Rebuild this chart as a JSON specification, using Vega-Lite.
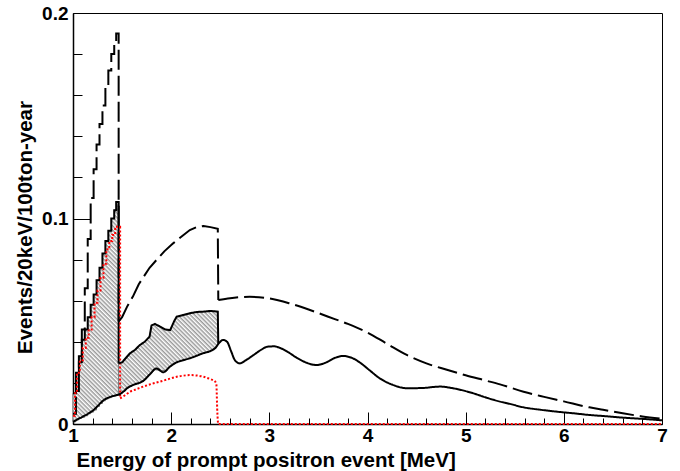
{
  "$schema": "https://vega.github.io/schema/vega-lite/v6.json",
  "width": 589,
  "height": 411,
  "autosize": {"type": "none"},
  "padding": {"left": 73, "top": 13, "right": 18, "bottom": 47},
  "background": "white",
  "config": {
    "view": {"stroke": "#000", "strokeWidth": 1},
    "font": "Liberation Sans",
    "axis": {
      "labelFont": "Liberation Sans", "labelFontWeight": "bold", "labelFontSize": 19, "labelColor": "#000",
      "titleFont": "Liberation Sans", "titleFontWeight": "bold", "titleFontSize": 20.5, "titleColor": "#000",
      "domainColor": "#000", "domainWidth": 1.5, "tickColor": "#000", "tickWidth": 1, "grid": false
    }
  },
  "data": {"values": [
    {"s":"hatch","part":"step","E":1.00,"v":0.015,"lo":0.0011},
    {"s":"hatch","part":"step","E":1.03,"v":0.025,"lo":0.002},
    {"s":"hatch","part":"step","E":1.06,"v":0.033,"lo":0.0028},
    {"s":"hatch","part":"step","E":1.09,"v":0.041,"lo":0.0033},
    {"s":"hatch","part":"step","E":1.12,"v":0.046,"lo":0.004},
    {"s":"hatch","part":"step","E":1.15,"v":0.052,"lo":0.005},
    {"s":"hatch","part":"step","E":1.18,"v":0.058,"lo":0.0058},
    {"s":"hatch","part":"step","E":1.21,"v":0.063,"lo":0.0068},
    {"s":"hatch","part":"step","E":1.24,"v":0.070,"lo":0.0085},
    {"s":"hatch","part":"step","E":1.27,"v":0.076,"lo":0.0100},
    {"s":"hatch","part":"step","E":1.30,"v":0.083,"lo":0.0113},
    {"s":"hatch","part":"step","E":1.33,"v":0.089,"lo":0.0122},
    {"s":"hatch","part":"step","E":1.36,"v":0.094,"lo":0.0128},
    {"s":"hatch","part":"step","E":1.39,"v":0.100,"lo":0.0134},
    {"s":"hatch","part":"step","E":1.42,"v":0.104,"lo":0.0137},
    {"s":"hatch","part":"step","E":1.44,"v":0.108,"lo":0.0140},
    {"s":"hatch","part":"step","E":1.465,"v":0.0295,"lo":0.0144},
    {"s":"hatch","part":"lin","E":1.465,"v":0.0295,"lo":0.0144},
    {"s":"hatch","part":"lin","E":1.50,"v":0.030,"lo":0.0153},
    {"s":"hatch","part":"lin","E":1.58,"v":0.0344,"lo":0.0181},
    {"s":"hatch","part":"lin","E":1.63,"v":0.036,"lo":0.0193},
    {"s":"hatch","part":"lin","E":1.68,"v":0.0384,"lo":0.0203},
    {"s":"hatch","part":"lin","E":1.73,"v":0.040,"lo":0.0216},
    {"s":"hatch","part":"lin","E":1.78,"v":0.0425,"lo":0.0240},
    {"s":"hatch","part":"lin","E":1.80,"v":0.048,"lo":0.0249},
    {"s":"hatch","part":"lin","E":1.835,"v":0.0487,"lo":0.0264},
    {"s":"hatch","part":"lin","E":1.886,"v":0.0474,"lo":0.0261},
    {"s":"hatch","part":"lin","E":1.94,"v":0.046,"lo":0.0260},
    {"s":"hatch","part":"lin","E":1.99,"v":0.0457,"lo":0.0280},
    {"s":"hatch","part":"lin","E":2.03,"v":0.050,"lo":0.0292},
    {"s":"hatch","part":"lin","E":2.056,"v":0.0522,"lo":0.0300},
    {"s":"hatch","part":"lin","E":2.12,"v":0.053,"lo":0.0310},
    {"s":"hatch","part":"lin","E":2.19,"v":0.0539,"lo":0.0320},
    {"s":"hatch","part":"lin","E":2.26,"v":0.0545,"lo":0.0332},
    {"s":"hatch","part":"lin","E":2.33,"v":0.0547,"lo":0.0345},
    {"s":"hatch","part":"lin","E":2.40,"v":0.0550,"lo":0.0355},
    {"s":"hatch","part":"lin","E":2.475,"v":0.0547,"lo":0.0385},
    {"s":"hatch","part":"lin","E":2.48,"v":0.039,"lo":0.039},

    {"s":"top","part":"step","E":1.00,"v":0.015},
    {"s":"top","part":"step","E":1.03,"v":0.025},
    {"s":"top","part":"step","E":1.06,"v":0.033},
    {"s":"top","part":"step","E":1.09,"v":0.041},
    {"s":"top","part":"step","E":1.12,"v":0.046},
    {"s":"top","part":"step","E":1.15,"v":0.052},
    {"s":"top","part":"step","E":1.18,"v":0.058},
    {"s":"top","part":"step","E":1.21,"v":0.063},
    {"s":"top","part":"step","E":1.24,"v":0.070},
    {"s":"top","part":"step","E":1.27,"v":0.076},
    {"s":"top","part":"step","E":1.30,"v":0.083},
    {"s":"top","part":"step","E":1.33,"v":0.089},
    {"s":"top","part":"step","E":1.36,"v":0.094},
    {"s":"top","part":"step","E":1.39,"v":0.100},
    {"s":"top","part":"step","E":1.42,"v":0.104},
    {"s":"top","part":"step","E":1.44,"v":0.108},
    {"s":"top","part":"step","E":1.465,"v":0.0295},
    {"s":"top","part":"lin","E":1.465,"v":0.0295},
    {"s":"top","part":"lin","E":1.50,"v":0.030},
    {"s":"top","part":"lin","E":1.58,"v":0.0344},
    {"s":"top","part":"lin","E":1.63,"v":0.036},
    {"s":"top","part":"lin","E":1.68,"v":0.0384},
    {"s":"top","part":"lin","E":1.73,"v":0.040},
    {"s":"top","part":"lin","E":1.78,"v":0.0425},
    {"s":"top","part":"lin","E":1.80,"v":0.048},
    {"s":"top","part":"lin","E":1.835,"v":0.0487},
    {"s":"top","part":"lin","E":1.886,"v":0.0474},
    {"s":"top","part":"lin","E":1.94,"v":0.046},
    {"s":"top","part":"lin","E":1.99,"v":0.0457},
    {"s":"top","part":"lin","E":2.03,"v":0.050},
    {"s":"top","part":"lin","E":2.056,"v":0.0522},
    {"s":"top","part":"lin","E":2.12,"v":0.053},
    {"s":"top","part":"lin","E":2.19,"v":0.0539},
    {"s":"top","part":"lin","E":2.26,"v":0.0545},
    {"s":"top","part":"lin","E":2.33,"v":0.0547},
    {"s":"top","part":"lin","E":2.40,"v":0.0550},
    {"s":"top","part":"lin","E":2.475,"v":0.0547},
    {"s":"top","part":"lin","E":2.48,"v":0.039},

    {"s":"dash","part":"step","E":1.00,"v":0.005},
    {"s":"dash","part":"step","E":1.03,"v":0.016},
    {"s":"dash","part":"step","E":1.06,"v":0.030},
    {"s":"dash","part":"step","E":1.09,"v":0.046},
    {"s":"dash","part":"step","E":1.12,"v":0.066},
    {"s":"dash","part":"step","E":1.15,"v":0.090},
    {"s":"dash","part":"step","E":1.18,"v":0.110},
    {"s":"dash","part":"step","E":1.21,"v":0.124},
    {"s":"dash","part":"step","E":1.24,"v":0.136},
    {"s":"dash","part":"step","E":1.27,"v":0.146},
    {"s":"dash","part":"step","E":1.30,"v":0.155},
    {"s":"dash","part":"step","E":1.33,"v":0.164},
    {"s":"dash","part":"step","E":1.36,"v":0.172},
    {"s":"dash","part":"step","E":1.39,"v":0.180},
    {"s":"dash","part":"step","E":1.42,"v":0.185},
    {"s":"dash","part":"step","E":1.44,"v":0.190},
    {"s":"dash","part":"step","E":1.465,"v":0.050},
    {"s":"dash","part":"lin","E":1.465,"v":0.050},
    {"s":"dash","part":"lin","E":1.50,"v":0.052},
    {"s":"dash","part":"lin","E":1.55,"v":0.057},
    {"s":"dash","part":"lin","E":1.61,"v":0.062},
    {"s":"dash","part":"lin","E":1.67,"v":0.068},
    {"s":"dash","part":"lin","E":1.72,"v":0.0717},
    {"s":"dash","part":"lin","E":1.78,"v":0.076},
    {"s":"dash","part":"lin","E":1.85,"v":0.0798},
    {"s":"dash","part":"lin","E":1.93,"v":0.084},
    {"s":"dash","part":"lin","E":2.02,"v":0.0879},
    {"s":"dash","part":"lin","E":2.10,"v":0.091},
    {"s":"dash","part":"lin","E":2.19,"v":0.0944},
    {"s":"dash","part":"lin","E":2.26,"v":0.0958},
    {"s":"dash","part":"lin","E":2.33,"v":0.0964},
    {"s":"dash","part":"lin","E":2.40,"v":0.0958},
    {"s":"dash","part":"lin","E":2.475,"v":0.0950},
    {"s":"dash","part":"lin","E":2.48,"v":0.0603},
    {"s":"dash","part":"mono","E":2.48,"v":0.0603},
    {"s":"dash","part":"mono","E":2.60,"v":0.0612},
    {"s":"dash","part":"mono","E":2.80,"v":0.0619},
    {"s":"dash","part":"mono","E":3.00,"v":0.0611},
    {"s":"dash","part":"mono","E":3.20,"v":0.0588},
    {"s":"dash","part":"mono","E":3.40,"v":0.0557},
    {"s":"dash","part":"mono","E":3.60,"v":0.0522},
    {"s":"dash","part":"mono","E":3.80,"v":0.0487},
    {"s":"dash","part":"mono","E":4.00,"v":0.0445},
    {"s":"dash","part":"mono","E":4.20,"v":0.0390},
    {"s":"dash","part":"mono","E":4.40,"v":0.0336},
    {"s":"dash","part":"mono","E":4.60,"v":0.0295},
    {"s":"dash","part":"mono","E":4.80,"v":0.0265},
    {"s":"dash","part":"mono","E":5.00,"v":0.0237},
    {"s":"dash","part":"mono","E":5.20,"v":0.0212},
    {"s":"dash","part":"mono","E":5.35,"v":0.0193},
    {"s":"dash","part":"mono","E":5.59,"v":0.0157},
    {"s":"dash","part":"mono","E":5.80,"v":0.0132},
    {"s":"dash","part":"mono","E":6.00,"v":0.0110},
    {"s":"dash","part":"mono","E":6.26,"v":0.0081},
    {"s":"dash","part":"mono","E":6.40,"v":0.0069},
    {"s":"dash","part":"mono","E":6.60,"v":0.0052},
    {"s":"dash","part":"mono","E":6.80,"v":0.0037},
    {"s":"dash","part":"mono","E":7.00,"v":0.0025},

    {"s":"solid","part":"mono","E":1.00,"v":0.0011},
    {"s":"solid","part":"mono","E":1.05,"v":0.0024},
    {"s":"solid","part":"mono","E":1.10,"v":0.0036},
    {"s":"solid","part":"mono","E":1.16,"v":0.0052},
    {"s":"solid","part":"mono","E":1.21,"v":0.0068},
    {"s":"solid","part":"mono","E":1.26,"v":0.0092},
    {"s":"solid","part":"mono","E":1.31,"v":0.0115},
    {"s":"solid","part":"mono","E":1.38,"v":0.0132},
    {"s":"solid","part":"mono","E":1.44,"v":0.0140},
    {"s":"solid","part":"mono","E":1.48,"v":0.0146},
    {"s":"solid","part":"mono","E":1.52,"v":0.0160},
    {"s":"solid","part":"mono","E":1.55,"v":0.0174},
    {"s":"solid","part":"mono","E":1.614,"v":0.0190},
    {"s":"solid","part":"mono","E":1.716,"v":0.0210},
    {"s":"solid","part":"mono","E":1.78,"v":0.0240},
    {"s":"solid","part":"mono","E":1.85,"v":0.0270},
    {"s":"solid","part":"mono","E":1.92,"v":0.0252},
    {"s":"solid","part":"mono","E":1.99,"v":0.0280},
    {"s":"solid","part":"mono","E":2.056,"v":0.0300},
    {"s":"solid","part":"mono","E":2.12,"v":0.0310},
    {"s":"solid","part":"mono","E":2.19,"v":0.0320},
    {"s":"solid","part":"mono","E":2.26,"v":0.0332},
    {"s":"solid","part":"mono","E":2.33,"v":0.0345},
    {"s":"solid","part":"mono","E":2.40,"v":0.0355},
    {"s":"solid","part":"mono","E":2.45,"v":0.0370},
    {"s":"solid","part":"mono","E":2.49,"v":0.0395},
    {"s":"solid","part":"mono","E":2.53,"v":0.0409},
    {"s":"solid","part":"mono","E":2.57,"v":0.0400},
    {"s":"solid","part":"mono","E":2.61,"v":0.0355},
    {"s":"solid","part":"mono","E":2.65,"v":0.0310},
    {"s":"solid","part":"mono","E":2.70,"v":0.0295},
    {"s":"solid","part":"mono","E":2.76,"v":0.0310},
    {"s":"solid","part":"mono","E":2.84,"v":0.0336},
    {"s":"solid","part":"mono","E":2.92,"v":0.0362},
    {"s":"solid","part":"mono","E":2.98,"v":0.0376},
    {"s":"solid","part":"mono","E":3.05,"v":0.0378},
    {"s":"solid","part":"mono","E":3.11,"v":0.0370},
    {"s":"solid","part":"mono","E":3.20,"v":0.0347},
    {"s":"solid","part":"mono","E":3.28,"v":0.0322},
    {"s":"solid","part":"mono","E":3.38,"v":0.0298},
    {"s":"solid","part":"mono","E":3.48,"v":0.0287},
    {"s":"solid","part":"mono","E":3.58,"v":0.0300},
    {"s":"solid","part":"mono","E":3.66,"v":0.0320},
    {"s":"solid","part":"mono","E":3.75,"v":0.0331},
    {"s":"solid","part":"mono","E":3.84,"v":0.0322},
    {"s":"solid","part":"mono","E":3.92,"v":0.0300},
    {"s":"solid","part":"mono","E":4.02,"v":0.0262},
    {"s":"solid","part":"mono","E":4.125,"v":0.0222},
    {"s":"solid","part":"mono","E":4.25,"v":0.0192},
    {"s":"solid","part":"mono","E":4.40,"v":0.0174},
    {"s":"solid","part":"mono","E":4.55,"v":0.0175},
    {"s":"solid","part":"mono","E":4.74,"v":0.0182},
    {"s":"solid","part":"mono","E":4.87,"v":0.0174},
    {"s":"solid","part":"mono","E":5.00,"v":0.0160},
    {"s":"solid","part":"mono","E":5.08,"v":0.0149},
    {"s":"solid","part":"mono","E":5.20,"v":0.0130},
    {"s":"solid","part":"mono","E":5.35,"v":0.0109},
    {"s":"solid","part":"mono","E":5.45,"v":0.0098},
    {"s":"solid","part":"mono","E":5.59,"v":0.0081},
    {"s":"solid","part":"mono","E":5.75,"v":0.0070},
    {"s":"solid","part":"mono","E":5.93,"v":0.0060},
    {"s":"solid","part":"mono","E":6.10,"v":0.0052},
    {"s":"solid","part":"mono","E":6.26,"v":0.0044},
    {"s":"solid","part":"mono","E":6.45,"v":0.0037},
    {"s":"solid","part":"mono","E":6.60,"v":0.0031},
    {"s":"solid","part":"mono","E":6.80,"v":0.0025},
    {"s":"solid","part":"mono","E":7.00,"v":0.0018},

    {"s":"red","part":"step","E":1.00,"v":0.004},
    {"s":"red","part":"step","E":1.02,"v":0.015},
    {"s":"red","part":"step","E":1.04,"v":0.025},
    {"s":"red","part":"step","E":1.07,"v":0.031},
    {"s":"red","part":"step","E":1.10,"v":0.037},
    {"s":"red","part":"step","E":1.13,"v":0.042},
    {"s":"red","part":"step","E":1.16,"v":0.046},
    {"s":"red","part":"step","E":1.19,"v":0.052},
    {"s":"red","part":"step","E":1.22,"v":0.059},
    {"s":"red","part":"step","E":1.25,"v":0.065},
    {"s":"red","part":"step","E":1.28,"v":0.071},
    {"s":"red","part":"step","E":1.31,"v":0.078},
    {"s":"red","part":"step","E":1.34,"v":0.085},
    {"s":"red","part":"step","E":1.37,"v":0.089},
    {"s":"red","part":"step","E":1.40,"v":0.092},
    {"s":"red","part":"step","E":1.43,"v":0.096},
    {"s":"red","part":"step","E":1.48,"v":0.0125},
    {"s":"red","part":"mono","E":1.48,"v":0.0125},
    {"s":"red","part":"mono","E":1.53,"v":0.014},
    {"s":"red","part":"mono","E":1.58,"v":0.0157},
    {"s":"red","part":"mono","E":1.65,"v":0.017},
    {"s":"red","part":"mono","E":1.716,"v":0.0182},
    {"s":"red","part":"mono","E":1.80,"v":0.0195},
    {"s":"red","part":"mono","E":1.886,"v":0.0206},
    {"s":"red","part":"mono","E":1.97,"v":0.0218},
    {"s":"red","part":"mono","E":2.056,"v":0.023},
    {"s":"red","part":"mono","E":2.12,"v":0.0235},
    {"s":"red","part":"mono","E":2.19,"v":0.0238},
    {"s":"red","part":"mono","E":2.26,"v":0.0236},
    {"s":"red","part":"mono","E":2.33,"v":0.023},
    {"s":"red","part":"mono","E":2.40,"v":0.0218},
    {"s":"red","part":"mono","E":2.44,"v":0.0210},
    {"s":"red","part":"mono","E":2.46,"v":0.0195},
    {"s":"red","part":"mono","E":2.47,"v":0.006},
    {"s":"red","part":"mono","E":2.48,"v":0.0},
    {"s":"red","part":"mono","E":7.00,"v":0.0}
  ]},
  "encoding": {
    "x": {
      "field": "E", "type": "quantitative",
      "scale": {"domain": [1, 7], "nice": false, "zero": false},
      "axis": {
        "title": "Energy of prompt positron event [MeV]",
        "values": [1,1.2,1.4,1.6,1.8,2,2.2,2.4,2.6,2.8,3,3.2,3.4,3.6,3.8,4,4.2,4.4,4.6,4.8,5,5.2,5.4,5.6,5.8,6,6.2,6.4,6.6,6.8,7],
        "labelExpr": "abs(datum.value-round(datum.value))<0.01 ? format(datum.value,'d') : ''",
        "tickSize": {"condition": {"test": "abs(datum.value-round(datum.value))<0.01", "value": -12}, "value": -6},
        "labelPadding": 14,
        "labelFlush": false,
        "labelOverlap": false,
        "labelBound": false,
        "titleX": 3,
        "titleY": 42.5,
        "titleAlign": "left",
        "titleAnchor": "start",
        "titleBaseline": "alphabetic"
      }
    },
    "y": {
      "field": "v", "type": "quantitative",
      "scale": {"domain": [0, 0.2], "nice": false, "zero": false},
      "axis": {
        "title": "Events/20keV/100ton-year",
        "values": [0,0.02,0.04,0.06,0.08,0.1,0.12,0.14,0.16,0.18,0.2],
        "labelExpr": "datum.value < 0.001 ? '0' : (abs(datum.value*10-round(datum.value*10))<0.01 ? format(datum.value,'.1f') : '')",
        "tickSize": {"condition": {"test": "abs(datum.value*10-round(datum.value*10))<0.01", "value": -17}, "value": -9},
        "labelPadding": 22,
        "labelFlush": false,
        "labelOverlap": false,
        "labelBound": false,
        "titleX": -48,
        "titleY": 214,
        "titleAngle": -90,
        "titleAlign": "center",
        "titleBaseline": "middle"
      }
    }
  },
  "layer": [
    {
      "transform": [{"filter": "datum.s === 'hatch' && datum.part === 'step'"}],
      "mark": {"type": "area", "interpolate": "step-after", "stroke": "#777", "strokeWidth": 1,
        "fill": {"gradient": "linear", "x1": 0, "y1": 1, "x2": 0.24, "y2": -0.155, "stops": [
          {"offset":0,"color":"#ffffff"},{"offset":0.011,"color":"#999999"},{"offset":0.016,"color":"#ffffff"},{"offset":0.027,"color":"#999999"},{"offset":0.032,"color":"#ffffff"},{"offset":0.043,"color":"#999999"},{"offset":0.048,"color":"#ffffff"},{"offset":0.059,"color":"#999999"},{"offset":0.064,"color":"#ffffff"},{"offset":0.075,"color":"#999999"},{"offset":0.08,"color":"#ffffff"},{"offset":0.091,"color":"#999999"},{"offset":0.096,"color":"#ffffff"},{"offset":0.107,"color":"#999999"},{"offset":0.112,"color":"#ffffff"},{"offset":0.123,"color":"#999999"},{"offset":0.128,"color":"#ffffff"},{"offset":0.139,"color":"#999999"},{"offset":0.144,"color":"#ffffff"},{"offset":0.155,"color":"#999999"},{"offset":0.16,"color":"#ffffff"},{"offset":0.171,"color":"#999999"},{"offset":0.176,"color":"#ffffff"},{"offset":0.187,"color":"#999999"},{"offset":0.192,"color":"#ffffff"},{"offset":0.203,"color":"#999999"},{"offset":0.208,"color":"#ffffff"},{"offset":0.219,"color":"#999999"},{"offset":0.224,"color":"#ffffff"},{"offset":0.235,"color":"#999999"},{"offset":0.24,"color":"#ffffff"},{"offset":0.251,"color":"#999999"},{"offset":0.256,"color":"#ffffff"},{"offset":0.267,"color":"#999999"},{"offset":0.272,"color":"#ffffff"},{"offset":0.283,"color":"#999999"},{"offset":0.288,"color":"#ffffff"},{"offset":0.299,"color":"#999999"},{"offset":0.304,"color":"#ffffff"},{"offset":0.315,"color":"#999999"},{"offset":0.32,"color":"#ffffff"},{"offset":0.331,"color":"#999999"},{"offset":0.336,"color":"#ffffff"},{"offset":0.347,"color":"#999999"},{"offset":0.352,"color":"#ffffff"},{"offset":0.363,"color":"#999999"},{"offset":0.368,"color":"#ffffff"},{"offset":0.379,"color":"#999999"},{"offset":0.384,"color":"#ffffff"},{"offset":0.395,"color":"#999999"},{"offset":0.4,"color":"#ffffff"},{"offset":0.411,"color":"#999999"},{"offset":0.416,"color":"#ffffff"},{"offset":0.427,"color":"#999999"},{"offset":0.432,"color":"#ffffff"},{"offset":0.443,"color":"#999999"},{"offset":0.448,"color":"#ffffff"},{"offset":0.459,"color":"#999999"},{"offset":0.464,"color":"#ffffff"},{"offset":0.475,"color":"#999999"},{"offset":0.48,"color":"#ffffff"},{"offset":0.491,"color":"#999999"},{"offset":0.496,"color":"#ffffff"},{"offset":0.507,"color":"#999999"},{"offset":0.512,"color":"#ffffff"},{"offset":0.523,"color":"#999999"},{"offset":0.528,"color":"#ffffff"},{"offset":0.539,"color":"#999999"},{"offset":0.544,"color":"#ffffff"},{"offset":0.555,"color":"#999999"},{"offset":0.56,"color":"#ffffff"},{"offset":0.571,"color":"#999999"},{"offset":0.576,"color":"#ffffff"},{"offset":0.587,"color":"#999999"},{"offset":0.592,"color":"#ffffff"},{"offset":0.603,"color":"#999999"},{"offset":0.608,"color":"#ffffff"},{"offset":0.619,"color":"#999999"},{"offset":0.624,"color":"#ffffff"},{"offset":0.635,"color":"#999999"},{"offset":0.64,"color":"#ffffff"},{"offset":0.651,"color":"#999999"},{"offset":0.656,"color":"#ffffff"},{"offset":0.667,"color":"#999999"},{"offset":0.672,"color":"#ffffff"},{"offset":0.683,"color":"#999999"},{"offset":0.688,"color":"#ffffff"},{"offset":0.699,"color":"#999999"},{"offset":0.704,"color":"#ffffff"},{"offset":0.715,"color":"#999999"},{"offset":0.72,"color":"#ffffff"},{"offset":0.731,"color":"#999999"},{"offset":0.736,"color":"#ffffff"},{"offset":0.747,"color":"#999999"},{"offset":0.752,"color":"#ffffff"},{"offset":0.763,"color":"#999999"},{"offset":0.768,"color":"#ffffff"},{"offset":0.779,"color":"#999999"},{"offset":0.784,"color":"#ffffff"},{"offset":0.795,"color":"#999999"},{"offset":0.8,"color":"#ffffff"},{"offset":0.811,"color":"#999999"},{"offset":0.816,"color":"#ffffff"},{"offset":0.827,"color":"#999999"},{"offset":0.832,"color":"#ffffff"},{"offset":0.843,"color":"#999999"},{"offset":0.848,"color":"#ffffff"},{"offset":0.859,"color":"#999999"},{"offset":0.864,"color":"#ffffff"},{"offset":0.875,"color":"#999999"},{"offset":0.88,"color":"#ffffff"},{"offset":0.891,"color":"#999999"},{"offset":0.896,"color":"#ffffff"},{"offset":0.907,"color":"#999999"},{"offset":0.912,"color":"#ffffff"},{"offset":0.923,"color":"#999999"},{"offset":0.928,"color":"#ffffff"},{"offset":0.939,"color":"#999999"},{"offset":0.944,"color":"#ffffff"},{"offset":0.955,"color":"#999999"},{"offset":0.96,"color":"#ffffff"},{"offset":0.971,"color":"#999999"},{"offset":0.976,"color":"#ffffff"},{"offset":0.987,"color":"#999999"},{"offset":0.992,"color":"#ffffff"},{"offset":1,"color":"#ffffff"}
        ]}},
      "encoding": {"y2": {"field": "lo"}}
    },
    {
      "transform": [{"filter": "datum.s === 'hatch' && datum.part === 'lin'"}],
      "mark": {"type": "area", "interpolate": "linear", "stroke": "#777", "strokeWidth": 1,
        "fill": {"gradient": "linear", "x1": 0, "y1": 1, "x2": 1.566, "y2": -0.311, "stops": [
          {"offset":0,"color":"#ffffff"},{"offset":0.011,"color":"#999999"},{"offset":0.016,"color":"#ffffff"},{"offset":0.027,"color":"#999999"},{"offset":0.032,"color":"#ffffff"},{"offset":0.043,"color":"#999999"},{"offset":0.048,"color":"#ffffff"},{"offset":0.059,"color":"#999999"},{"offset":0.064,"color":"#ffffff"},{"offset":0.075,"color":"#999999"},{"offset":0.08,"color":"#ffffff"},{"offset":0.091,"color":"#999999"},{"offset":0.096,"color":"#ffffff"},{"offset":0.107,"color":"#999999"},{"offset":0.112,"color":"#ffffff"},{"offset":0.123,"color":"#999999"},{"offset":0.128,"color":"#ffffff"},{"offset":0.139,"color":"#999999"},{"offset":0.144,"color":"#ffffff"},{"offset":0.155,"color":"#999999"},{"offset":0.16,"color":"#ffffff"},{"offset":0.171,"color":"#999999"},{"offset":0.176,"color":"#ffffff"},{"offset":0.187,"color":"#999999"},{"offset":0.192,"color":"#ffffff"},{"offset":0.203,"color":"#999999"},{"offset":0.208,"color":"#ffffff"},{"offset":0.219,"color":"#999999"},{"offset":0.224,"color":"#ffffff"},{"offset":0.235,"color":"#999999"},{"offset":0.24,"color":"#ffffff"},{"offset":0.251,"color":"#999999"},{"offset":0.256,"color":"#ffffff"},{"offset":0.267,"color":"#999999"},{"offset":0.272,"color":"#ffffff"},{"offset":0.283,"color":"#999999"},{"offset":0.288,"color":"#ffffff"},{"offset":0.299,"color":"#999999"},{"offset":0.304,"color":"#ffffff"},{"offset":0.315,"color":"#999999"},{"offset":0.32,"color":"#ffffff"},{"offset":0.331,"color":"#999999"},{"offset":0.336,"color":"#ffffff"},{"offset":0.347,"color":"#999999"},{"offset":0.352,"color":"#ffffff"},{"offset":0.363,"color":"#999999"},{"offset":0.368,"color":"#ffffff"},{"offset":0.379,"color":"#999999"},{"offset":0.384,"color":"#ffffff"},{"offset":0.395,"color":"#999999"},{"offset":0.4,"color":"#ffffff"},{"offset":0.411,"color":"#999999"},{"offset":0.416,"color":"#ffffff"},{"offset":0.427,"color":"#999999"},{"offset":0.432,"color":"#ffffff"},{"offset":0.443,"color":"#999999"},{"offset":0.448,"color":"#ffffff"},{"offset":0.459,"color":"#999999"},{"offset":0.464,"color":"#ffffff"},{"offset":0.475,"color":"#999999"},{"offset":0.48,"color":"#ffffff"},{"offset":0.491,"color":"#999999"},{"offset":0.496,"color":"#ffffff"},{"offset":0.507,"color":"#999999"},{"offset":0.512,"color":"#ffffff"},{"offset":0.523,"color":"#999999"},{"offset":0.528,"color":"#ffffff"},{"offset":0.539,"color":"#999999"},{"offset":0.544,"color":"#ffffff"},{"offset":0.555,"color":"#999999"},{"offset":0.56,"color":"#ffffff"},{"offset":0.571,"color":"#999999"},{"offset":0.576,"color":"#ffffff"},{"offset":0.587,"color":"#999999"},{"offset":0.592,"color":"#ffffff"},{"offset":0.603,"color":"#999999"},{"offset":0.608,"color":"#ffffff"},{"offset":0.619,"color":"#999999"},{"offset":0.624,"color":"#ffffff"},{"offset":0.635,"color":"#999999"},{"offset":0.64,"color":"#ffffff"},{"offset":0.651,"color":"#999999"},{"offset":0.656,"color":"#ffffff"},{"offset":0.667,"color":"#999999"},{"offset":0.672,"color":"#ffffff"},{"offset":0.683,"color":"#999999"},{"offset":0.688,"color":"#ffffff"},{"offset":0.699,"color":"#999999"},{"offset":0.704,"color":"#ffffff"},{"offset":0.715,"color":"#999999"},{"offset":0.72,"color":"#ffffff"},{"offset":1,"color":"#ffffff"}
        ]}},
      "encoding": {"y2": {"field": "lo"}}
    },
    {
      "transform": [{"filter": "datum.s !== 'hatch' && datum.part === 'step'"}],
      "mark": {"type": "line", "interpolate": "step-after"},
      "encoding": {
        "color": {"field": "s", "type": "nominal", "scale": {"domain": ["dash","solid","top","red"], "range": ["#000000","#000000","#000000","#ff0000"]}, "legend": null},
        "strokeDash": {"field": "s", "type": "nominal", "scale": {"domain": ["dash","solid","top","red"], "range": [[20,6],[1,0],[1,0],[2,2]]}, "legend": null},
        "strokeWidth": {"field": "s", "type": "ordinal", "scale": {"domain": ["dash","solid","top","red"], "range": [2,2,2,3]}, "legend": null}
      }
    },
    {
      "transform": [{"filter": "datum.s !== 'hatch' && datum.part === 'lin'"}],
      "mark": {"type": "line", "interpolate": "linear"},
      "encoding": {
        "color": {"field": "s", "type": "nominal", "scale": {"domain": ["dash","solid","top","red"], "range": ["#000000","#000000","#000000","#ff0000"]}, "legend": null},
        "strokeDash": {"field": "s", "type": "nominal", "scale": {"domain": ["dash","solid","top","red"], "range": [[20,6],[1,0],[1,0],[2,2]]}, "legend": null},
        "strokeWidth": {"field": "s", "type": "ordinal", "scale": {"domain": ["dash","solid","top","red"], "range": [2,2,2,3]}, "legend": null}
      }
    },
    {
      "transform": [{"filter": "datum.s !== 'hatch' && datum.part === 'mono'"}],
      "mark": {"type": "line", "interpolate": "monotone"},
      "encoding": {
        "color": {"field": "s", "type": "nominal", "scale": {"domain": ["dash","solid","top","red"], "range": ["#000000","#000000","#000000","#ff0000"]}, "legend": null},
        "strokeDash": {"field": "s", "type": "nominal", "scale": {"domain": ["dash","solid","top","red"], "range": [[20,6],[1,0],[1,0],[2,2]]}, "legend": null},
        "strokeWidth": {"field": "s", "type": "ordinal", "scale": {"domain": ["dash","solid","top","red"], "range": [2,2,2,3]}, "legend": null}
      }
    }
  ]
}
